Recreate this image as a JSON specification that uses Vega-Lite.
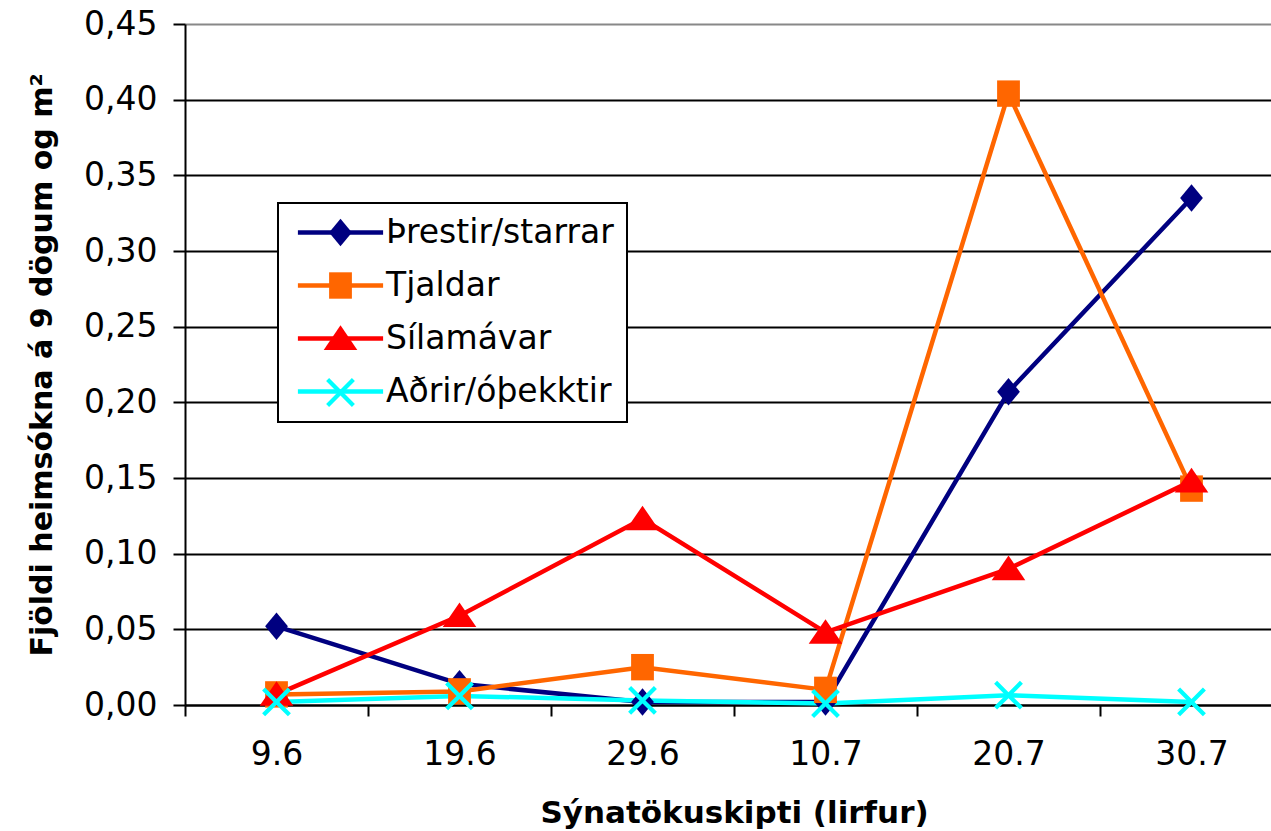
{
  "$schema": "https://vega.github.io/schema/vega-lite/v6.json",
  "width": 1098,
  "height": 681,
  "autosize": {"type": "none"},
  "padding": {"left": 185, "top": 24, "right": 0, "bottom": 126},
  "background": "white",
  "config": {
    "font": "DejaVu Sans",
    "view": {"stroke": null},
    "legend": {"strokeWidth": 2}
  },
  "data": {
    "values": [
      {"date": "9.6", "series": "Þrestir/starrar", "value": 0.052},
      {"date": "19.6", "series": "Þrestir/starrar", "value": 0.014},
      {"date": "29.6", "series": "Þrestir/starrar", "value": 0.002},
      {"date": "10.7", "series": "Þrestir/starrar", "value": 0.002},
      {"date": "20.7", "series": "Þrestir/starrar", "value": 0.207},
      {"date": "30.7", "series": "Þrestir/starrar", "value": 0.335},
      {"date": "9.6", "series": "Tjaldar", "value": 0.007},
      {"date": "19.6", "series": "Tjaldar", "value": 0.009},
      {"date": "29.6", "series": "Tjaldar", "value": 0.025},
      {"date": "10.7", "series": "Tjaldar", "value": 0.010},
      {"date": "20.7", "series": "Tjaldar", "value": 0.404},
      {"date": "30.7", "series": "Tjaldar", "value": 0.143},
      {"date": "9.6", "series": "Sílamávar", "value": 0.007},
      {"date": "19.6", "series": "Sílamávar", "value": 0.059},
      {"date": "29.6", "series": "Sílamávar", "value": 0.123},
      {"date": "10.7", "series": "Sílamávar", "value": 0.048},
      {"date": "20.7", "series": "Sílamávar", "value": 0.090},
      {"date": "30.7", "series": "Sílamávar", "value": 0.148},
      {"date": "9.6", "series": "Aðrir/óþekktir", "value": 0.002},
      {"date": "19.6", "series": "Aðrir/óþekktir", "value": 0.006},
      {"date": "29.6", "series": "Aðrir/óþekktir", "value": 0.003},
      {"date": "10.7", "series": "Aðrir/óþekktir", "value": 0.001},
      {"date": "20.7", "series": "Aðrir/óþekktir", "value": 0.0065},
      {"date": "30.7", "series": "Aðrir/óþekktir", "value": 0.002}
    ]
  },
  "encoding": {
    "x": {
      "field": "date",
      "type": "ordinal",
      "sort": ["9.6", "19.6", "29.6", "10.7", "20.7", "30.7"],
      "scale": {"type": "band", "domain": ["9.6", "19.6", "29.6", "10.7", "20.7", "30.7"], "paddingInner": 0, "paddingOuter": 0},
      "axis": {
        "title": "Sýnatökuskipti (lirfur)",
        "titleFontSize": 31,
        "titleFontWeight": "bold",
        "titleColor": "black",
        "titlePadding": 27,
        "labelFontSize": 33,
        "labelColor": "black",
        "labelAngle": 0,
        "labelPadding": 22,
        "tickBand": "extent",
        "tickSize": 11,
        "tickWidth": 2,
        "tickColor": "black",
        "domainColor": "black",
        "domainWidth": 2,
        "grid": false
      }
    },
    "y": {
      "field": "value",
      "type": "quantitative",
      "scale": {"domain": [0, 0.45], "nice": false, "zero": true},
      "axis": {
        "title": "Fjöldi heimsókna á 9 dögum og m²",
        "titleFontSize": 30,
        "titleFontWeight": "bold",
        "titleColor": "black",
        "titlePadding": 26,
        "values": [0, 0.05, 0.1, 0.15, 0.2, 0.25, 0.3, 0.35, 0.4, 0.45],
        "labelExpr": "replace(format(datum.value, '.2f'), '.', ',')",
        "labelFontSize": 33,
        "labelColor": "black",
        "labelPadding": 16,
        "tickSize": 12,
        "tickWidth": 2,
        "tickColor": "black",
        "domainColor": "black",
        "domainWidth": 2,
        "grid": true,
        "gridColor": {"condition": {"test": "datum.value >= 0.45", "value": "#888888"}, "value": "black"},
        "gridWidth": 2,
        "gridOpacity": 1
      }
    }
  },
  "layer": [
    {
      "mark": {"type": "line", "strokeWidth": 4.5},
      "encoding": {
        "stroke": {
          "field": "series",
          "type": "nominal",
          "scale": {
            "domain": ["Þrestir/starrar", "Tjaldar", "Sílamávar", "Aðrir/óþekktir"],
            "range": ["#000080", "#FF6600", "#FF0000", "#00FFFF"]
          },
          "legend": {
            "title": null,
            "orient": "none",
            "legendX": 93,
            "legendY": 179,
            "zindex": 0,
            "fillColor": "white",
            "strokeColor": "black",
            "padding": 13,
            "symbolType": "M-3.55,0H3.55",
            "symbolSize": 576,
            "symbolStrokeWidth": 4.5,
            "symbolOffset": 33,
            "labelOffset": 29,
            "labelFontSize": 33,
            "labelLimit": 500,
            "labelColor": "black",
            "rowPadding": 19
          }
        }
      }
    },
    {
      "mark": {"type": "point", "filled": true, "size": 576, "opacity": 1},
      "encoding": {
        "color": {
          "field": "series",
          "type": "nominal",
          "sort": "descending",
          "scale": {"range": ["#000080", "#FF6600", "#FF0000", "#00FFFF"]},
          "legend": {
            "title": null,
            "orient": "none",
            "legendX": 93,
            "legendY": 179,
            "zindex": 1,
            "padding": 13,
            "symbolSize": 576,
            "symbolOffset": 33,
            "symbolOpacity": 1,
            "labelOffset": 29,
            "labelFontSize": 33,
            "labelLimit": 500,
            "labelOpacity": 0,
            "rowPadding": 19
          }
        },
        "shape": {
          "field": "series",
          "type": "nominal",
          "sort": "descending",
          "scale": {
            "range": [
              "M0,-1.15L0.95,0L0,1.15L-0.95,0Z",
              "M-0.95,-1.1H0.95V1.1H-0.95Z",
              "M0,-1.1L1.4,0.95H-1.4Z",
              "M-1.2,-0.95L-0.95,-1.2L0,-0.25L0.95,-1.2L1.2,-0.95L0.25,0L1.2,0.95L0.95,1.2L0,0.25L-0.95,1.2L-1.2,0.95L-0.25,0Z"
            ]
          },
          "legend": {
            "title": null,
            "orient": "none",
            "legendX": 93,
            "legendY": 179,
            "zindex": 1,
            "padding": 13,
            "symbolSize": 576,
            "symbolOffset": 33,
            "labelOffset": 29,
            "labelFontSize": 33,
            "labelLimit": 500,
            "labelOpacity": 0,
            "rowPadding": 19
          }
        }
      }
    }
  ]
}
